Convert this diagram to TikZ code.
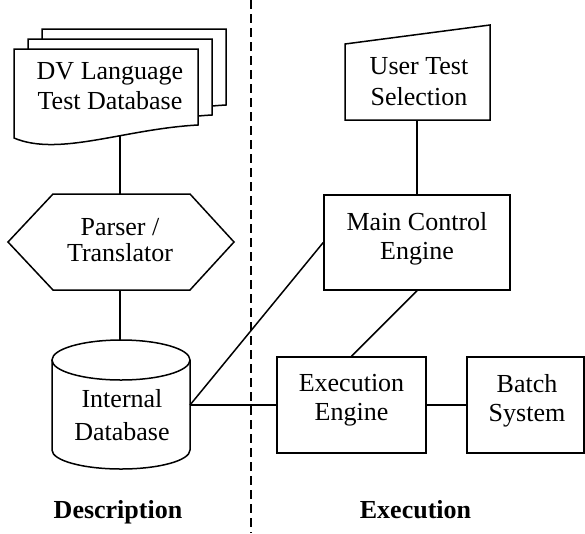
\documentclass[tikz,border=0pt]{standalone}
\usepackage{fontspec}
\setmainfont{Liberation Serif}
\begin{document}
\begin{tikzpicture}[x=1pt,y=-1pt,line width=1.5pt,
  txt/.style={inner sep=0pt,align=center,font=\fontsize{26}{#1}\selectfont},
  txt/.default=30,
  lbl/.style={inner sep=0pt,font=\fontsize{26}{30}\selectfont\bfseries,anchor=base},
  boxnode/.style={draw,rectangle,inner sep=0pt,minimum width=#1},
  divider/.style={line width=1.3pt,dash pattern=on 9pt off 5pt},
  docpage/.pic={\draw[fill=white] (0,0) -- (184,0) -- (184,76) .. controls (110,80) and (45,108) .. (0,89) -- cycle;}
]
\fill[white] (0,0) rectangle (585,533);
\useasboundingbox (0,0) rectangle (585,533);

% divider
\coordinate (dtop) at (251,0);
\coordinate (dbot) at (251,533);
\draw[divider] (dtop) -- (dbot);

% document stack
\pic at (42,29) {docpage};
\pic at (28,39) {docpage};
\pic at (14,49) {docpage};
\node[txt] (dvt) at (110,86.4) {DV Language\\Test Database};

% hexagon
\draw (53,194) -- (190,194) -- (234,242) -- (190,290) -- (53,290) -- (8,242) -- cycle;
\node[txt=26] (pt) at (120,240) {Parser /\\Translator};

% cylinder
\draw[fill=white] (52,360) -- (52,450) arc[start angle=180,end angle=0,x radius=69,y radius=19] -- (190,360);
\draw (121,360) ellipse[x radius=69,y radius=20];
\node[txt=33] (idb) at (122,414.6) {Internal\\Database};

% manual input
\draw (345,44) -- (490,25) -- (490,120) -- (345,120) -- cycle;
\node[txt=31] (utst) at (419,82) {User Test\\Selection};

% boxes
\node[boxnode=186,minimum height=95] (mce) at (417,242.5) {};
\node[txt=29] (mcet) at (417,238.4) {Main Control\\Engine};
\node[boxnode=149,minimum height=96] (exe) at (351.5,405) {};
\node[txt=29] (exet) at (351.5,400.4) {Execution\\Engine};
\node[boxnode=117,minimum height=96] (bat) at (525.5,405) {};
\node[txt=29] (batt) at (527,400.4) {Batch\\System};

% labels
\node[lbl] (ldesc) at (118,518) {Description};
\node[lbl] (lexec) at (415.5,518) {Execution};

% connectors
\coordinate (docb) at (120,135.5);
\coordinate (hext) at (120,194);
\coordinate (hexb) at (120,290);
\coordinate (cylt) at (120,340);
\coordinate (cylp) at (190,405);
\coordinate (utsb) at (417,120);
\draw (docb) -- (hext);
\draw (hexb) -- (cylt);
\draw (utsb) -- (mce.north);
\draw (mce.south) -- (exe.north);
\draw (cylp) -- (mce.west);
\draw (cylp) -- (exe.west);
\draw (exe.east) -- (bat.west);
\end{tikzpicture}
\end{document}
